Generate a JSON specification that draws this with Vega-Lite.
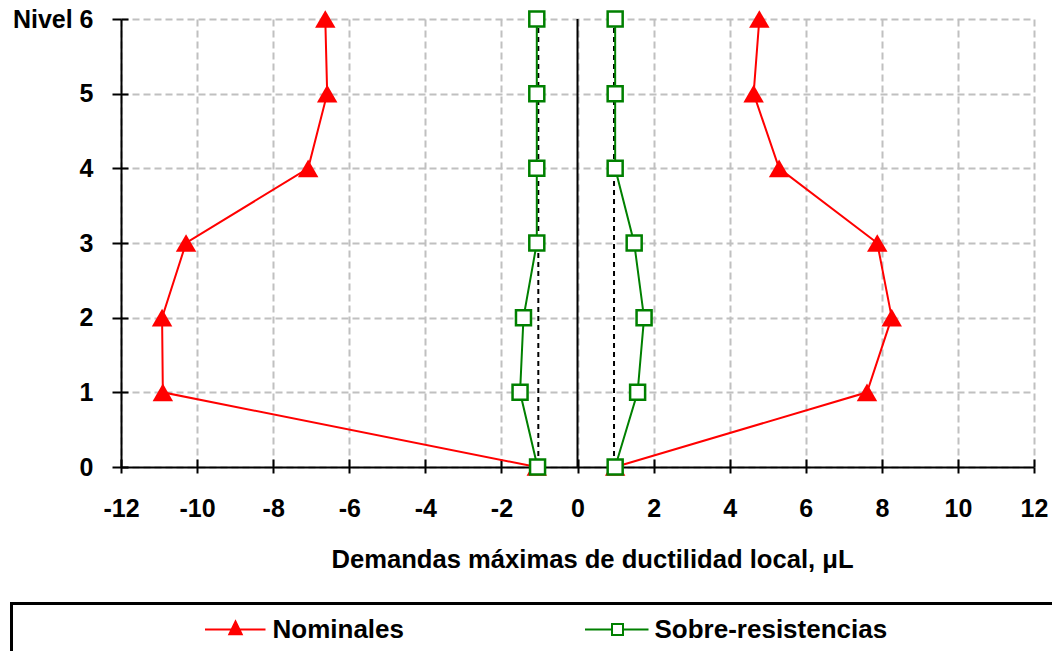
{
  "$schema": "https://vega.github.io/schema/vega-lite/v6.json",
  "width": 913,
  "height": 448,
  "autosize": {"type": "none"},
  "padding": {"left": 121, "top": 19, "right": 18, "bottom": 184},
  "background": "white",
  "config": {
    "view": {"stroke": null},
    "font": "Liberation Sans",
    "axis": {
      "domainColor": "black", "domainWidth": 2,
      "tickColor": "black", "tickWidth": 2,
      "gridColor": "#c0c0c0", "gridDash": [7, 4], "gridWidth": 2,
      "labelFont": "Liberation Sans", "labelFontSize": 25, "labelFontWeight": "bold", "labelColor": "black",
      "labelFlush": false, "labelOverlap": false,
      "titleFont": "Liberation Sans", "titleFontWeight": "bold", "titleColor": "black"
    },
    "legend": {"strokeWidth": 3}
  },
  "datasets": {
    "perfiles": [
      {"serie": "Nominales", "lado": "izq", "nivel": 0, "mu": -1.07},
      {"serie": "Nominales", "lado": "izq", "nivel": 1, "mu": -10.90},
      {"serie": "Nominales", "lado": "izq", "nivel": 2, "mu": -10.92},
      {"serie": "Nominales", "lado": "izq", "nivel": 3, "mu": -10.29},
      {"serie": "Nominales", "lado": "izq", "nivel": 4, "mu": -7.08},
      {"serie": "Nominales", "lado": "izq", "nivel": 5, "mu": -6.58},
      {"serie": "Nominales", "lado": "izq", "nivel": 6, "mu": -6.63},
      {"serie": "Nominales", "lado": "der", "nivel": 0, "mu": 0.99},
      {"serie": "Nominales", "lado": "der", "nivel": 1, "mu": 7.61},
      {"serie": "Nominales", "lado": "der", "nivel": 2, "mu": 8.26},
      {"serie": "Nominales", "lado": "der", "nivel": 3, "mu": 7.88},
      {"serie": "Nominales", "lado": "der", "nivel": 4, "mu": 5.30},
      {"serie": "Nominales", "lado": "der", "nivel": 5, "mu": 4.63},
      {"serie": "Nominales", "lado": "der", "nivel": 6, "mu": 4.78},
      {"serie": "Sobre-resistencias", "lado": "izq", "nivel": 0, "mu": -1.05},
      {"serie": "Sobre-resistencias", "lado": "izq", "nivel": 1, "mu": -1.51},
      {"serie": "Sobre-resistencias", "lado": "izq", "nivel": 2, "mu": -1.42},
      {"serie": "Sobre-resistencias", "lado": "izq", "nivel": 3, "mu": -1.07},
      {"serie": "Sobre-resistencias", "lado": "izq", "nivel": 4, "mu": -1.07},
      {"serie": "Sobre-resistencias", "lado": "izq", "nivel": 5, "mu": -1.07},
      {"serie": "Sobre-resistencias", "lado": "izq", "nivel": 6, "mu": -1.07},
      {"serie": "Sobre-resistencias", "lado": "der", "nivel": 0, "mu": 0.99},
      {"serie": "Sobre-resistencias", "lado": "der", "nivel": 1, "mu": 1.58},
      {"serie": "Sobre-resistencias", "lado": "der", "nivel": 2, "mu": 1.75},
      {"serie": "Sobre-resistencias", "lado": "der", "nivel": 3, "mu": 1.49},
      {"serie": "Sobre-resistencias", "lado": "der", "nivel": 4, "mu": 0.99},
      {"serie": "Sobre-resistencias", "lado": "der", "nivel": 5, "mu": 0.99},
      {"serie": "Sobre-resistencias", "lado": "der", "nivel": 6, "mu": 0.99}
    ],
    "limites": [{"mu": -1.03}, {"mu": 0.96}],
    "eje": [{"mu": 0}]
  },
  "layer": [
    {
      "data": {"name": "limites"},
      "mark": {"type": "rule", "color": "black", "strokeWidth": 2, "strokeDash": [5, 4]},
      "encoding": {
        "x": {"field": "mu", "type": "quantitative", "scale": {"domain": [-12, 12], "nice": false}, "axis": null}
      }
    },
    {
      "data": {"name": "eje"},
      "mark": {"type": "rule", "color": "black", "strokeWidth": 2},
      "encoding": {
        "x": {"field": "mu", "type": "quantitative", "scale": {"domain": [-12, 12], "nice": false}, "axis": null}
      }
    },
    {
      "data": {"name": "perfiles"},
      "mark": {"type": "line", "strokeWidth": 2},
      "encoding": {
        "x": {
          "field": "mu", "type": "quantitative",
          "scale": {"domain": [-12, 12], "nice": false},
          "axis": {
            "orient": "bottom",
            "values": [-12, -10, -8, -6, -4, -2, 0, 2, 4, 6, 8, 10, 12],
            "labelExpr": "toString(datum.value)",
            "tickSize": 6, "labelPadding": 23,
            "title": "Demandas máximas de ductilidad local, μL",
            "titleFontSize": 25.6, "titlePadding": 26, "titleX": 471, "titleAlign": "center",
            "grid": true
          }
        },
        "y": {
          "field": "nivel", "type": "quantitative",
          "scale": {"domain": [0, 6], "nice": false},
          "axis": {
            "orient": "left",
            "values": [0, 1, 2, 3, 4, 5, 6],
            "labelExpr": "datum.value == 6 ? 'Nivel 6' : toString(datum.value)",
            "tickSize": 9, "labelPadding": 19,
            "title": null,
            "grid": true
          }
        },
        "detail": {"field": "lado"},
        "order": {"field": "nivel", "type": "quantitative"},
        "color": {
          "field": "serie", "type": "nominal",
          "scale": {"domain": ["Nominales", "Sobre-resistencias"], "range": ["#ff0000", "#008000"]},
          "legend": {
            "orient": "none", "legendX": -109.5, "legendY": 584.5,
            "direction": "horizontal",
            "title": " ", "titleOrient": "left", "titleFontSize": 1, "titlePadding": 198,
            "padding": 13, "strokeColor": "black", "fillColor": "white",
            "labelFont": "Liberation Sans", "labelFontSize": 26, "labelFontWeight": "bold", "labelColor": "black",
            "labelLimit": 2000, "labelOffset": 24, "columnPadding": 176,
            "labelExpr": "datum.value == 'Sobre-resistencias' ? datum.label + '\u00a0\u00a0\u00a0\u00a0\u00a0\u00a0\u00a0\u00a0\u00a0\u00a0\u00a0\u00a0\u00a0\u00a0\u00a0\u00a0\u00a0\u00a0\u00a0\u00a0\u00a0\u00a0\u200b' : datum.label",
            "symbolSize": 400, "symbolStrokeWidth": 2,
            "encode": {
              "symbols": {
                "update": {
                  "shape": {"signal": "datum.value == 'Nominales' ? 'M-3.05,0H3M0,-0.8L0.62,0.48L-0.62,0.48Z' : 'M-3.25,0H-0.55M0.55,0H3.1M-0.55,-0.55H0.55V0.55H-0.55Z'"},
                  "fill": {"signal": "datum.value == 'Nominales' ? '#ff0000' : 'white'"},
                  "stroke": {"signal": "datum.value == 'Nominales' ? '#ff0000' : '#008000'"},
                  "strokeWidth": {"value": 2},
                  "size": {"value": 400},
                  "opacity": {"value": 1},
                  "fillOpacity": {"value": 1}
                }
              }
            }
          }
        }
      }
    },
    {
      "data": {"name": "perfiles"},
      "transform": [{"filter": "datum.serie == 'Nominales'"}],
      "mark": {"type": "point", "shape": "triangle-up", "filled": true, "color": "#ff0000", "size": 420, "opacity": 1, "strokeWidth": 0},
      "encoding": {
        "x": {"field": "mu", "type": "quantitative", "scale": {"domain": [-12, 12], "nice": false}, "axis": null},
        "y": {"field": "nivel", "type": "quantitative", "scale": {"domain": [0, 6], "nice": false}, "axis": null}
      }
    },
    {
      "data": {"name": "perfiles"},
      "transform": [{"filter": "datum.serie == 'Sobre-resistencias'"}],
      "mark": {"type": "point", "shape": "square", "fill": "white", "stroke": "#008000", "strokeWidth": 2.5, "size": 225, "opacity": 1, "fillOpacity": 1},
      "encoding": {
        "x": {
          "field": "mu", "type": "quantitative", "scale": {"domain": [-12, 12], "nice": false},
          "axis": {"orient": "bottom", "values": [-12, -10, -8, -6, -4, -2, 0, 2, 4, 6, 8, 10, 12], "tickSize": -8, "labels": false, "domain": false, "grid": false, "title": null}
        },
        "y": {
          "field": "nivel", "type": "quantitative", "scale": {"domain": [0, 6], "nice": false},
          "axis": {"orient": "left", "values": [0, 1, 2, 3, 4, 5, 6], "tickSize": -7, "labels": false, "domain": false, "grid": false, "title": null}
        }
      }
    }
  ],
  "resolve": {"axis": {"x": "independent", "y": "independent"}}
}
